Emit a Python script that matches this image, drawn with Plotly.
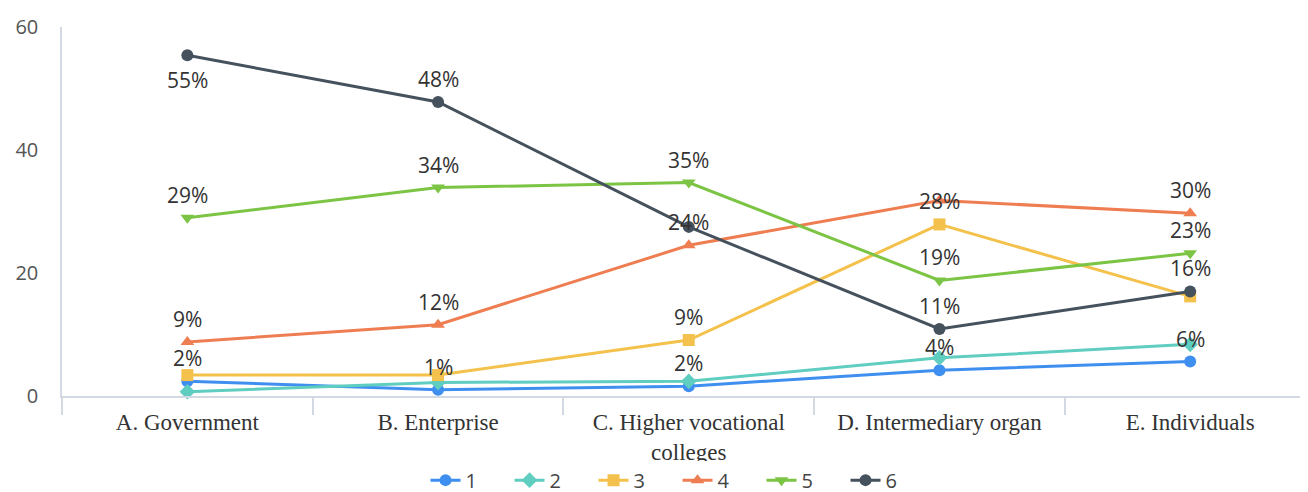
import plotly.graph_objects as go

categories = ["A. Government", "B. Enterprise", "C. Higher vocational<br>colleges",
              "D. Intermediary organ", "E. Individuals"]
series_names = ["1", "2", "3", "4", "5", "6"]

s1 = [2.4, 1.0, 1.6, 4.2, 5.6]
s2 = [0.7, 2.2, 2.4, 6.2, 8.4]
s3 = [3.4, 3.4, 9.1, 27.9, 16.2]
s4 = [8.8, 11.6, 24.5, 31.8, 29.7]
s5 = [29.0, 33.9, 34.7, 18.8, 23.2]
s6 = [55.4, 47.8, 27.5, 10.9, 17.0]

l1 = ["2%", "1%", "2%", "4%", "6%"]
l2 = ["", "", "", "", ""]
l3 = ["", "", "9%", "28%", ""]
l4 = ["9%", "12%", "24%", "", "30%"]
l5 = ["29%", "34%", "35%", "19%", "23%"]
l6 = ["55%", "48%", "", "11%", "16%"]

colors = ["#3f8ff0", "#5fcdc0", "#f4c24c", "#ee7e52", "#7cc444", "#45515d"]
symbols = ["circle", "diamond", "square", "triangle-up", "triangle-down", "circle"]

values = [s1, s2, s3, s4, s5, s6]
labels = [l1, l2, l3, l4, l5, l6]

fig = go.Figure()
for i in range(6):
    fig.add_trace(go.Scatter(
        x=categories, y=values[i], name=series_names[i],
        mode="lines+markers",
        line=dict(color=colors[i], width=3),
        marker=dict(symbol=symbols[i], size=12, color=colors[i]),
        cliponaxis=False,
    ))

label_font = dict(family="Open Sans, Noto Sans, sans-serif", size=21, color="#333333")
for i in range(6):
    for j in range(5):
        if labels[i][j]:
            below = (i == 5 and j == 0)
            fig.add_annotation(x=categories[j], y=values[i][j], text=labels[i][j],
                               showarrow=False, font=label_font,
                               yshift=-25 if below else 23)

fig.update_layout(
    width=1308, height=492,
    margin=dict(l=54, r=8, t=19, b=104, autoexpand=False),
    paper_bgcolor="white", plot_bgcolor="white",
    showlegend=True,
    legend=dict(orientation="h", x=0.494, xanchor="center", y=-0.228, yanchor="middle",
                font=dict(family="Open Sans, Noto Sans, sans-serif", size=20, color="#444444"),
                entrywidth=39, itemwidth=30),
    xaxis=dict(type="category", showgrid=False, showline=True, linecolor="#d3d9e3", linewidth=1.5,
               ticks="outside", tickson="boundaries", ticklen=17, tickcolor="#d3d9e3", tickwidth=1.5,
               ticklabelstandoff=5,
               tickfont=dict(family="Liberation Serif, serif", size=23, color="#333333"),
               range=[-0.5, 4.47]),
    yaxis=dict(range=[0, 60], tickvals=[0, 20, 40, 60], showgrid=False, zeroline=False,
               showline=True, linecolor="#d3d9e3", linewidth=1.5,
               ticks="outside", ticklen=18, tickcolor="rgba(0,0,0,0)",
               tickfont=dict(family="Open Sans, Noto Sans, sans-serif", size=20, color="#555555")),
)

fig.write_html("out.html")
